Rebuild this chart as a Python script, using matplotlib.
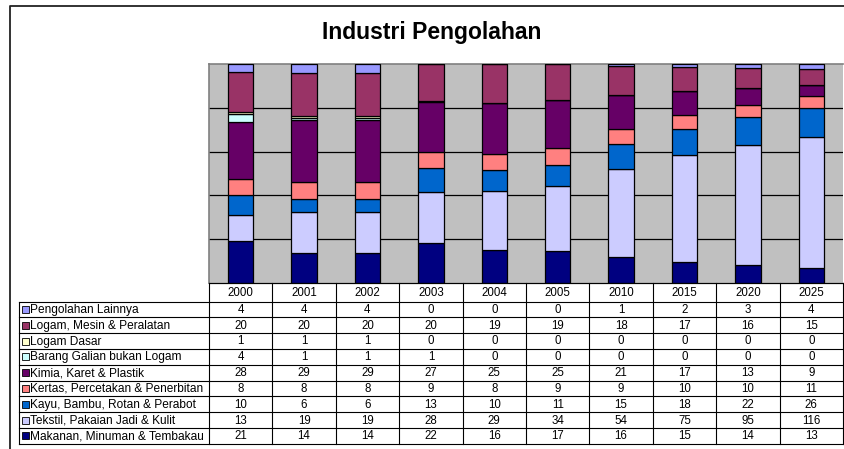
import numpy as np
import matplotlib
matplotlib.use("Agg")
import matplotlib.pyplot as plt
from matplotlib.patches import Rectangle

plt.rcParams['font.family'] = ['Liberation Sans', 'DejaVu Sans']

years = ['2000', '2001', '2002', '2003', '2004', '2005', '2010', '2015', '2020', '2025']

# table order (top to bottom); stacking goes bottom-up, i.e. reversed
sectors = [
    'Pengolahan Lainnya',
    'Logam, Mesin & Peralatan',
    'Logam Dasar',
    'Barang Galian bukan Logam',
    'Kimia, Karet & Plastik',
    'Kertas, Percetakan & Penerbitan',
    'Kayu, Bambu, Rotan & Perabot',
    'Tekstil, Pakaian Jadi & Kulit',
    'Makanan, Minuman & Tembakau',
]
pengolahan = [4, 4, 4, 0, 0, 0, 1, 2, 3, 4]
logam_mesin = [20, 20, 20, 20, 19, 19, 18, 17, 16, 15]
logam_dasar = [1, 1, 1, 0, 0, 0, 0, 0, 0, 0]
barang_galian = [4, 1, 1, 1, 0, 0, 0, 0, 0, 0]
kimia = [28, 29, 29, 27, 25, 25, 21, 17, 13, 9]
kertas = [8, 8, 8, 9, 8, 9, 9, 10, 10, 11]
kayu = [10, 6, 6, 13, 10, 11, 15, 18, 22, 26]
tekstil = [13, 19, 19, 28, 29, 34, 54, 75, 95, 116]
makanan = [21, 14, 14, 22, 16, 17, 16, 15, 14, 13]

series = [pengolahan, logam_mesin, logam_dasar, barang_galian, kimia,
          kertas, kayu, tekstil, makanan]
colors = ['#9999FF', '#993366', '#FFFFCC', '#CCFFFF', '#660066',
          '#FF8080', '#0066CC', '#CCCCFF', '#000080']

W, H = 844, 449
fig = plt.figure(figsize=(W / 100, H / 100), dpi=100)

# pixel layout
px_left, px_right, px_top, px_bottom = 209, 843, 64, 283

ax = fig.add_axes([px_left / W, 1 - px_bottom / H,
                   (px_right - px_left) / W, (px_bottom - px_top) / H])
ax.set_facecolor('#C0C0C0')

data = np.array(series, dtype=float)
totals = data.sum(axis=0)
pct = data / totals * 100
x = np.arange(len(years))
bottom = np.zeros(len(years))
for i in range(len(sectors) - 1, -1, -1):
    ax.bar(x, pct[i], 0.4, bottom=bottom, color=colors[i],
           edgecolor='black', linewidth=0.9, zorder=3)
    bottom += pct[i]

ax.set_xlim(-0.5, len(years) - 0.5)
ax.set_ylim(0, 100)
ax.set_yticks([20, 40, 60, 80])
ax.yaxis.grid(True, color='black', linewidth=0.9, zorder=1)
ax.tick_params(left=False, bottom=False, labelleft=False, labelbottom=False)
for s in ['top', 'left']:
    ax.spines[s].set_color('#808080')
    ax.spines[s].set_linewidth(1.2)
ax.spines['right'].set_visible(False)
ax.spines['bottom'].set_color('black')

# overlay axes in pixel coordinates for title, frame and table
ov = fig.add_axes([0, 0, 1, 1], facecolor='none')
ov.set_xlim(0, W)
ov.set_ylim(H, 0)
ov.axis('off')

ov.plot([9.5, 9.5, W], [H, 5.5, 5.5], color='#222222', linewidth=1.3)
ov.text(432, 32, 'Industri Pengolahan', ha='center', va='center',
        fontsize=16.5, fontweight='bold')

col_w = (px_right - px_left) / len(years)
header_top, header_bot = 283, 301.5
row_h = 15.8
label_left = 19
n_rows = len(sectors)
table_bot = header_bot + row_h * n_rows
lw = 0.8

# header row
ov.plot([px_left, px_right], [header_top, header_top], color='black', lw=lw)
for j, yr in enumerate(years):
    cx = px_left + col_w * (j + 0.5)
    ov.text(cx, (header_top + header_bot) / 2 + 0.5, yr, ha='center',
            va='center', fontsize=8.3)
for j in range(len(years) + 1):
    xx = px_left + col_w * j
    ov.plot([xx, xx], [header_top, table_bot], color='black', lw=lw)
ov.plot([label_left, label_left], [header_bot, table_bot], color='black', lw=lw)

for i, name in enumerate(sectors):
    top = header_bot + row_h * i
    ov.plot([label_left, px_right], [top, top], color='black', lw=lw)
    cy = top + row_h / 2
    ov.add_patch(Rectangle((21.5, cy - 3.5), 7, 7, facecolor=colors[i],
                           edgecolor='black', linewidth=0.6))
    ov.text(30, cy + 0.5, name, ha='left', va='center', fontsize=8.6)
    for j in range(len(years)):
        cx = px_left + col_w * (j + 0.5)
        ov.text(cx, cy + 0.5, str(series[i][j]), ha='center', va='center',
                fontsize=8.3)
ov.plot([label_left, px_right], [table_bot, table_bot], color='black', lw=lw)

fig.savefig('out.png', dpi=100)
